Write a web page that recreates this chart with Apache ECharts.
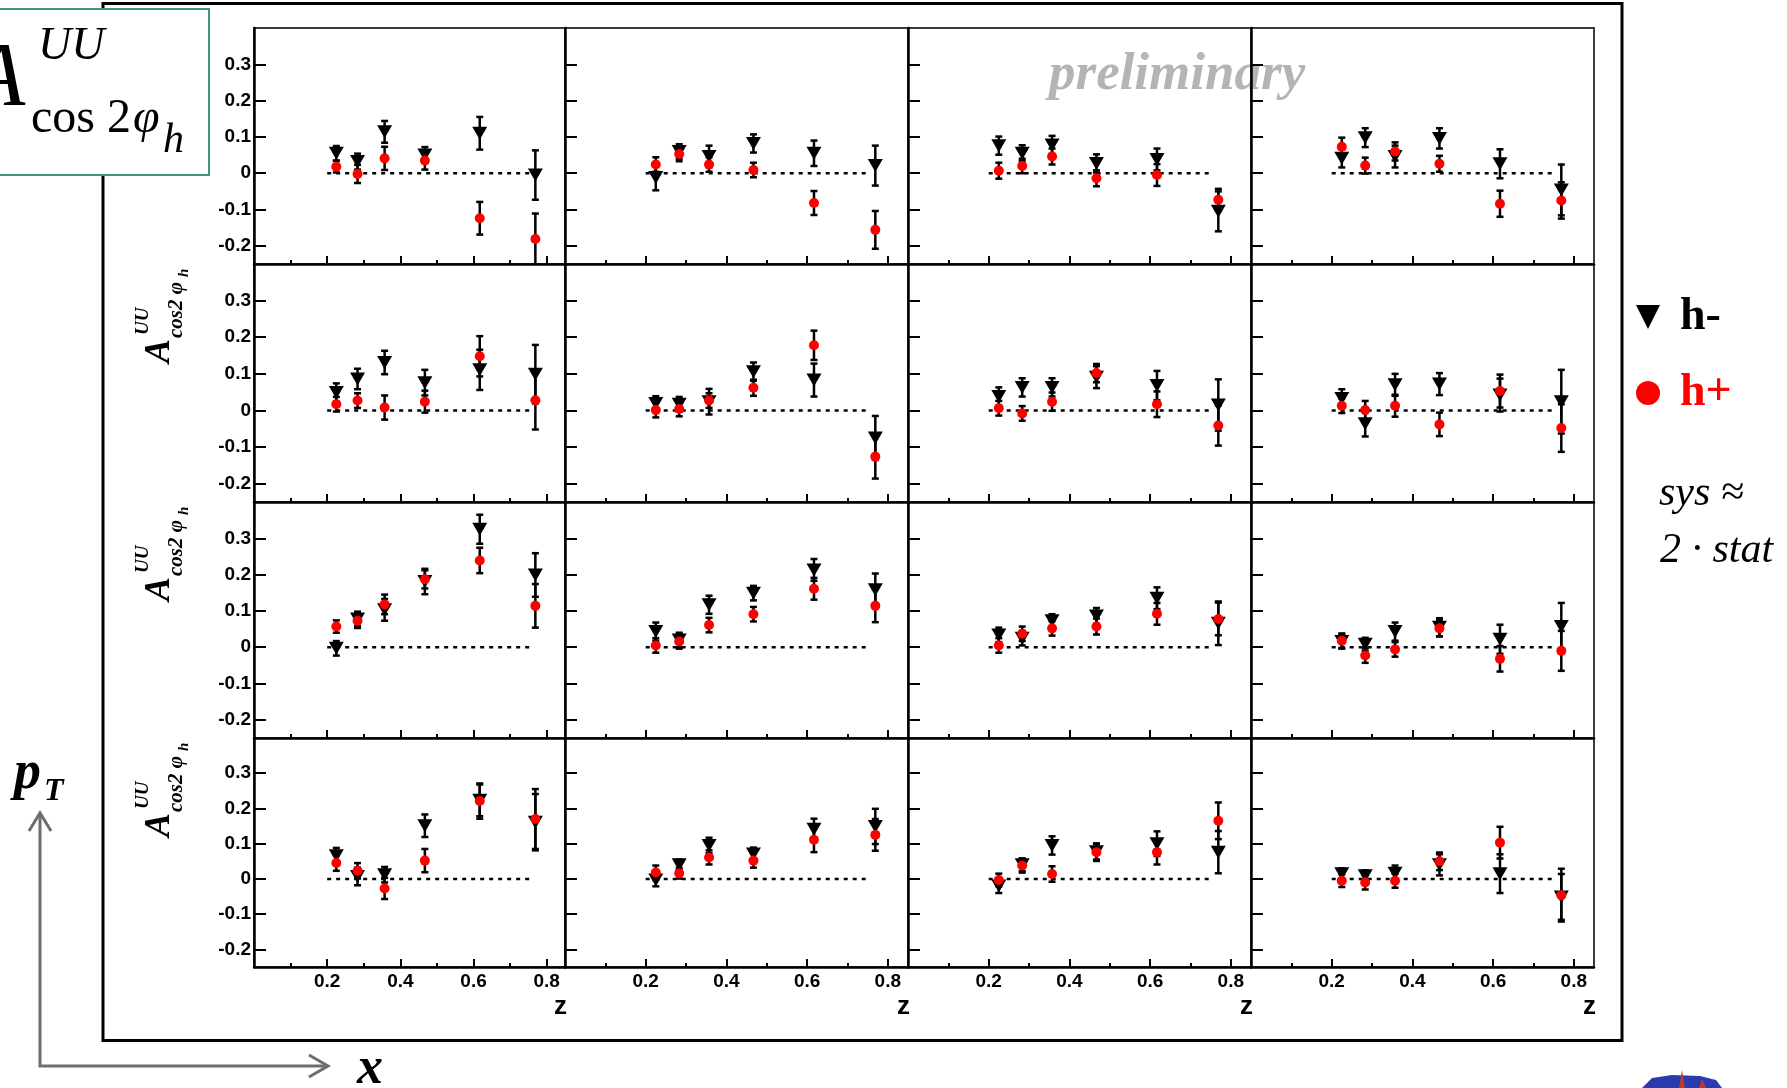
<!DOCTYPE html>
<html>
<head>
<meta charset="utf-8">
<script src="https://cdn.jsdelivr.net/npm/echarts@6/dist/echarts.min.js"></script>
<style>
  html, body { margin: 0; padding: 0; background: #fff; }
  #chart { width: 1787px; height: 1088px; }
</style>
</head>
<body>
<div id="chart"></div>
<script>
// z bin centres shared by every panel
const Z_BINS = [0.225, 0.283, 0.357, 0.467, 0.617, 0.769];
// reference line at zero spans these z values
const ZERO_LINE_Z = [0.2, 0.755];

const X_MAJOR = [0.2, 0.4, 0.6, 0.8];
const X_MAJOR_LABELS = ['0.2', '0.4', '0.6', '0.8'];
const X_MINOR = [0.1, 0.3, 0.5, 0.7];
const Y_TICKS = [-0.2, -0.1, 0, 0.1, 0.2, 0.3];
const Y_TICK_LABELS = ['-0.2', '-0.1', '0', '0.1', '0.2', '0.3'];

// Each array: one row of panels (x bins left to right), 6 z bins per panel.
// h- (negative hadrons): values and statistical errors
const HM_VAL_R1 = [
  [0.055, 0.032, 0.114, 0.050, 0.110, -0.005],
  [-0.012, 0.060, 0.046, 0.082, 0.055, 0.021],
  [0.076, 0.055, 0.078, 0.027, 0.038, -0.105],
  [0.041, 0.098, 0.046, 0.096, 0.026, -0.046]
];
const HM_ERR_R1 = [
  [0.020, 0.022, 0.030, 0.022, 0.045, 0.068],
  [0.035, 0.020, 0.030, 0.025, 0.035, 0.055],
  [0.025, 0.022, 0.025, 0.025, 0.030, 0.055],
  [0.025, 0.026, 0.030, 0.028, 0.040, 0.070]
];
const HM_VAL_R2 = [
  [0.049, 0.086, 0.131, 0.076, 0.111, 0.099],
  [0.019, 0.017, 0.024, 0.106, 0.083, -0.075],
  [0.038, 0.063, 0.063, 0.091, 0.068, 0.015],
  [0.033, -0.036, 0.070, 0.072, 0.042, 0.024]
];
const HM_ERR_R2 = [
  [0.025, 0.028, 0.032, 0.035, 0.055, 0.080],
  [0.020, 0.020, 0.035, 0.025, 0.045, 0.060],
  [0.025, 0.025, 0.025, 0.030, 0.040, 0.070],
  [0.025, 0.035, 0.030, 0.030, 0.045, 0.087]
];
const HM_VAL_R3 = [
  [-0.003, 0.078, 0.103, 0.181, 0.325, 0.199],
  [0.043, 0.020, 0.117, 0.149, 0.213, 0.158],
  [0.034, 0.025, 0.073, 0.086, 0.135, 0.066],
  [0.016, 0.008, 0.043, 0.055, 0.022, 0.057]
];
const HM_ERR_R3 = [
  [0.020, 0.020, 0.030, 0.035, 0.040, 0.060],
  [0.025, 0.020, 0.025, 0.020, 0.030, 0.045],
  [0.020, 0.020, 0.018, 0.022, 0.030, 0.060],
  [0.020, 0.018, 0.025, 0.025, 0.040, 0.065]
];
const HM_VAL_R4 = [
  [0.066, 0.007, 0.012, 0.151, 0.223, 0.161],
  [-0.003, 0.040, 0.095, 0.071, 0.141, 0.149],
  [-0.020, 0.040, 0.095, 0.077, 0.100, 0.076],
  [0.015, 0.009, 0.016, 0.040, 0.015, -0.051]
];
const HM_ERR_R4 = [
  [0.022, 0.025, 0.022, 0.032, 0.045, 0.080],
  [0.018, 0.015, 0.022, 0.018, 0.030, 0.050],
  [0.020, 0.018, 0.026, 0.022, 0.035, 0.060],
  [0.015, 0.015, 0.022, 0.030, 0.055, 0.065]
];

// h+ (positive hadrons): values and statistical errors
const HP_VAL_R1 = [
  [0.018, -0.002, 0.041, 0.035, -0.124, -0.181],
  [0.024, 0.053, 0.024, 0.009, -0.082, -0.156],
  [0.007, 0.020, 0.046, -0.014, -0.005, -0.073],
  [0.073, 0.021, 0.060, 0.026, -0.084, -0.075]
];
const HP_ERR_R1 = [
  [0.016, 0.025, 0.032, 0.025, 0.045, 0.070],
  [0.020, 0.020, 0.020, 0.020, 0.033, 0.052],
  [0.022, 0.020, 0.022, 0.022, 0.030, 0.030],
  [0.025, 0.022, 0.025, 0.022, 0.036, 0.050]
];
const HP_VAL_R2 = [
  [0.017, 0.027, 0.008, 0.024, 0.148, 0.028],
  [0.001, 0.004, 0.027, 0.062, 0.178, -0.126],
  [0.006, -0.008, 0.024, 0.102, 0.017, -0.041],
  [0.013, 0.001, 0.013, -0.038, 0.053, -0.048]
];
const HP_ERR_R2 = [
  [0.020, 0.020, 0.033, 0.030, 0.055, 0.080],
  [0.020, 0.020, 0.020, 0.022, 0.040, 0.060],
  [0.020, 0.020, 0.025, 0.025, 0.035, 0.055],
  [0.020, 0.025, 0.030, 0.032, 0.045, 0.065]
];
const HP_VAL_R3 = [
  [0.057, 0.073, 0.118, 0.187, 0.239, 0.114],
  [0.005, 0.016, 0.061, 0.091, 0.161, 0.114],
  [0.005, 0.037, 0.052, 0.057, 0.092, 0.078],
  [0.018, -0.023, -0.006, 0.052, -0.032, -0.010]
];
const HP_ERR_R3 = [
  [0.017, 0.020, 0.027, 0.025, 0.035, 0.060],
  [0.020, 0.020, 0.020, 0.020, 0.030, 0.045],
  [0.020, 0.020, 0.020, 0.022, 0.030, 0.045],
  [0.020, 0.020, 0.020, 0.022, 0.035, 0.055]
];
const HP_VAL_R4 = [
  [0.045, 0.023, -0.027, 0.052, 0.221, 0.170],
  [0.018, 0.016, 0.061, 0.052, 0.111, 0.125],
  [-0.003, 0.038, 0.014, 0.076, 0.076, 0.165],
  [-0.005, -0.010, -0.005, 0.050, 0.103, -0.046]
];
const HP_ERR_R4 = [
  [0.022, 0.022, 0.030, 0.033, 0.050, 0.085],
  [0.020, 0.015, 0.020, 0.020, 0.035, 0.045],
  [0.018, 0.020, 0.022, 0.025, 0.035, 0.052],
  [0.018, 0.020, 0.020, 0.025, 0.045, 0.075]
];

const HM_VAL = [HM_VAL_R1, HM_VAL_R2, HM_VAL_R3, HM_VAL_R4];
const HM_ERR = [HM_ERR_R1, HM_ERR_R2, HM_ERR_R3, HM_ERR_R4];
const HP_VAL = [HP_VAL_R1, HP_VAL_R2, HP_VAL_R3, HP_VAL_R4];
const HP_ERR = [HP_ERR_R1, HP_ERR_R2, HP_ERR_R3, HP_ERR_R4];

// panel layout in pixels
const COL_EDGES = [254, 565, 908, 1251, 1594];
const ROW_EDGES = [28, 264, 502, 738, 967];

const SANS = '"Liberation Sans", Arial, sans-serif';
const SERIF = '"Liberation Serif", "Times New Roman", serif';
const H_MINUS_COLOR = '#000000';
const H_PLUS_COLOR = '#ff0000';

function labelFor(values, labels, v) {
  for (let i = 0; i < values.length; i++) {
    if (Math.abs(values[i] - v) < 1e-6) return labels[i];
  }
  return '';
}

function renderErrorBar(params, api) {
  const z = api.value(0), v = api.value(1), e = api.value(2);
  const top = api.coord([z, v + e]);
  const bot = api.coord([z, v - e]);
  const cap = 3.5;
  const style = { stroke: '#000', lineWidth: 2.5 };
  return {
    type: 'group',
    children: [
      { type: 'line', shape: { x1: top[0], y1: top[1], x2: bot[0], y2: bot[1] }, style },
      { type: 'line', shape: { x1: top[0] - cap, y1: top[1], x2: top[0] + cap, y2: top[1] }, style },
      { type: 'line', shape: { x1: bot[0] - cap, y1: bot[1], x2: bot[0] + cap, y2: bot[1] }, style }
    ]
  };
}

const grids = [], xAxes = [], yAxes = [], series = [];

for (let r = 0; r < 4; r++) {
  for (let c = 0; c < 4; c++) {
    const p = r * 4 + c;
    const isBottom = r === 3;
    const isLeft = c === 0;
    grids.push({
      left: COL_EDGES[c], top: ROW_EDGES[r],
      width: COL_EDGES[c + 1] - COL_EDGES[c],
      height: ROW_EDGES[r + 1] - ROW_EDGES[r],
      show: true, borderColor: '#3c3c3c', borderWidth: 2,
      backgroundColor: 'transparent'
    });
    // major z axis
    xAxes.push({
      gridIndex: p, type: 'value', min: 0, max: 0.85, position: 'bottom',
      axisLine: { show: true, onZero: false, lineStyle: { color: '#000', width: 2.5 } },
      axisTick: { show: true, inside: true, length: 8, customValues: X_MAJOR,
        lineStyle: { color: '#000', width: 2 } },
      axisLabel: { show: isBottom, customValues: X_MAJOR, margin: 5,
        formatter: v => labelFor(X_MAJOR, X_MAJOR_LABELS, v),
        color: '#000', fontFamily: SANS, fontWeight: 'bold', fontSize: 19 },
      splitLine: { show: false }
    });
    // minor z ticks, drawn on the same bottom edge
    xAxes.push({
      gridIndex: p, type: 'value', min: 0, max: 0.85, position: 'bottom',
      axisLine: { show: false, onZero: false },
      axisTick: { show: true, inside: true, length: 4, customValues: X_MINOR,
        lineStyle: { color: '#000', width: 2 } },
      axisLabel: { show: false },
      splitLine: { show: false }
    });
    yAxes.push({
      gridIndex: p, type: 'value', min: -0.25, max: 0.4,
      axisLine: { show: true, onZero: false, lineStyle: { color: '#000', width: 2.5 } },
      axisTick: { show: true, inside: true, length: 12, customValues: Y_TICKS,
        lineStyle: { color: '#000', width: 2 } },
      axisLabel: { show: isLeft, customValues: Y_TICKS, margin: 3,
        formatter: v => labelFor(Y_TICKS, Y_TICK_LABELS, v),
        color: '#000', fontFamily: SANS, fontWeight: 'bold', fontSize: 19 },
      splitLine: { show: false }
    });

    const xi = 2 * p, yi = p;
    const hmBars = Z_BINS.map((z, k) => [z, HM_VAL[r][c][k], HM_ERR[r][c][k]]);
    const hpBars = Z_BINS.map((z, k) => [z, HP_VAL[r][c][k], HP_ERR[r][c][k]]);

    series.push({
      type: 'line', xAxisIndex: xi, yAxisIndex: yi, silent: true, z: 1,
      data: ZERO_LINE_Z.map(z => [z, 0]), symbol: 'none',
      lineStyle: { color: '#000', width: 2.5, type: [4, 5] }
    });
    series.push({
      type: 'custom', name: 'h-', xAxisIndex: xi, yAxisIndex: yi, z: 2, clip: true,
      itemStyle: { color: H_MINUS_COLOR },
      data: hmBars, renderItem: renderErrorBar, encode: { x: 0, y: 1 }
    });
    series.push({
      type: 'scatter', name: 'h-', xAxisIndex: xi, yAxisIndex: yi, z: 3,
      data: hmBars.map(d => [d[0], d[1]]),
      symbol: 'triangle', symbolRotate: 180, symbolSize: [15, 13],
      itemStyle: { color: H_MINUS_COLOR, opacity: 1 }
    });
    series.push({
      type: 'custom', name: 'h+', xAxisIndex: xi, yAxisIndex: yi, z: 4, clip: true,
      itemStyle: { color: H_PLUS_COLOR },
      data: hpBars, renderItem: renderErrorBar, encode: { x: 0, y: 1 }
    });
    series.push({
      type: 'scatter', name: 'h+', xAxisIndex: xi, yAxisIndex: yi, z: 5,
      data: hpBars.map(d => [d[0], d[1]]),
      symbol: 'circle', symbolSize: 10,
      itemStyle: { color: H_PLUS_COLOR, opacity: 1 }
    });
  }
}

// rotated A^UU_{cos2 phi_h} label beside a row of panels
function rowLabel(rowTop) {
  return {
    type: 'group', x: 172, y: rowTop + 99, rotation: Math.PI / 2,
    children: [
      { type: 'text', x: 0, y: -12, style: { text: 'A', font: 'bold italic 36px ' + SERIF,
        fill: '#000', align: 'left', verticalAlign: 'middle' } },
      { type: 'text', x: 28, y: -29, style: { text: 'UU', font: 'bold italic 19px ' + SERIF,
        fill: '#000', align: 'left', verticalAlign: 'middle' } },
      { type: 'text', x: 25, y: 5, style: { text: 'cos2 \u03c6', font: 'bold italic 21px ' + SERIF,
        fill: '#000', align: 'left', verticalAlign: 'middle' } },
      { type: 'text', x: 86, y: 12, style: { text: 'h', font: 'bold italic 15px ' + SERIF,
        fill: '#000', align: 'left', verticalAlign: 'middle' } }
    ]
  };
}

const graphics = [
  // outer frame
  { type: 'rect', z: -5, shape: { x: 103, y: 3.5, width: 1519, height: 1037 },
    style: { fill: 'none', stroke: '#000', lineWidth: 3 } },
  // title box
  { type: 'rect', z: 50, shape: { x: -2, y: 9, width: 211, height: 166 },
    style: { fill: '#fff', stroke: '#3d9a6e', lineWidth: 2 } },
  { type: 'text', z: 51, x: -31, y: 81, style: { text: 'A', font: 'italic 92px ' + SERIF,
    fill: '#000', align: 'left', verticalAlign: 'middle' } },
  { type: 'text', z: 51, x: 38, y: 47, style: { text: 'UU', font: 'italic 46px ' + SERIF,
    fill: '#000', align: 'left', verticalAlign: 'middle' } },
  { type: 'text', z: 51, x: 31, y: 119, style: { text: 'cos 2', font: '48px ' + SERIF,
    fill: '#000', align: 'left', verticalAlign: 'middle' } },
  { type: 'text', z: 51, x: 133, y: 119, style: { text: '\u03c6', font: 'italic 48px ' + SERIF,
    fill: '#000', align: 'left', verticalAlign: 'middle' } },
  { type: 'text', z: 51, x: 163, y: 141, style: { text: 'h', font: 'italic 42px ' + SERIF,
    fill: '#000', align: 'left', verticalAlign: 'middle' } },
  // watermark
  { type: 'text', z: -1, x: 1049, y: 75, style: { text: 'preliminary',
    font: 'bold italic 53px ' + SERIF, fill: '#b4b4b4', align: 'left', verticalAlign: 'middle' } },
  // systematic note
  { type: 'text', x: 1659, y: 494, style: { text: 'sys \u2248', font: 'italic 42px ' + SERIF,
    fill: '#000', align: 'left', verticalAlign: 'middle' } },
  { type: 'text', x: 1660, y: 551, style: { text: '2 \u00b7 stat', font: 'italic 42px ' + SERIF,
    fill: '#000', align: 'left', verticalAlign: 'middle' } },
  // pT / x arrows
  { type: 'polyline', shape: { points: [[40, 813], [40, 1066], [328, 1066]] },
    style: { stroke: '#6e6e6e', lineWidth: 3, fill: 'none' } },
  { type: 'polyline', shape: { points: [[29, 831], [40, 813], [51, 831]] },
    style: { stroke: '#6e6e6e', lineWidth: 3, fill: 'none' } },
  { type: 'polyline', shape: { points: [[309, 1055], [328, 1066], [309, 1077]] },
    style: { stroke: '#6e6e6e', lineWidth: 3, fill: 'none' } },
  { type: 'text', x: 14, y: 774, style: { text: 'p', font: 'bold italic 54px ' + SERIF,
    fill: '#000', align: 'left', verticalAlign: 'middle' } },
  { type: 'text', x: 44, y: 792, style: { text: 'T', font: 'bold italic 32px ' + SERIF,
    fill: '#000', align: 'left', verticalAlign: 'middle' } },
  { type: 'text', x: 357, y: 1070, style: { text: 'x', font: 'bold italic 52px ' + SERIF,
    fill: '#000', align: 'left', verticalAlign: 'middle' } },
  // small logo in the corner
  { type: 'polygon', shape: { points: [[1642, 1088], [1652, 1078], [1672, 1075], [1700, 1076],
      [1716, 1080], [1722, 1088]] }, style: { fill: '#2a3bb0' } },
  { type: 'polygon', shape: { points: [[1679, 1088], [1682, 1070], [1685, 1088]] },
    style: { fill: '#c0392b' } },
  { type: 'polygon', shape: { points: [[1699, 1088], [1702, 1079], [1706, 1088]] },
    style: { fill: '#c0392b' } }
];

// "z" axis titles under each column
for (let c = 0; c < 4; c++) {
  graphics.push({ type: 'text', x: COL_EDGES[c + 1] + 2, y: 1007,
    style: { text: 'z', font: 'bold 26px ' + SANS, fill: '#000', align: 'right', verticalAlign: 'middle' } });
}
for (let r = 1; r < 4; r++) graphics.push(rowLabel(ROW_EDGES[r]));

const chart = echarts.init(document.getElementById('chart'));
chart.setOption({
  animation: false,
  backgroundColor: '#fff',
  grid: grids,
  xAxis: xAxes,
  yAxis: yAxes,
  series: series,
  legend: {
    orient: 'vertical', left: 1636, top: 294, itemWidth: 26, itemHeight: 24, itemGap: 30,
    selectedMode: false, padding: 0,
    data: [
      { name: 'h-', icon: 'path://M0,0L10,0L5,10Z', itemStyle: { color: H_MINUS_COLOR },
        textStyle: { color: '#000' } },
      { name: 'h+', icon: 'circle', itemStyle: { color: H_PLUS_COLOR },
        textStyle: { color: '#ff0000' } }
    ],
    textStyle: { fontFamily: SERIF, fontWeight: 'bold', fontSize: 46, padding: [0, 0, 0, 14] }
  },
  graphic: { elements: graphics }
});
</script>
</body>
</html>
